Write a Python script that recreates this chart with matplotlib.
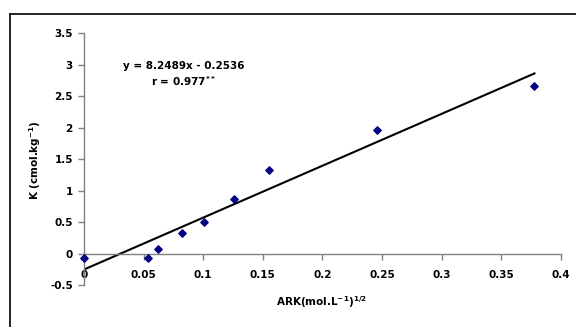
import matplotlib
matplotlib.use("Agg")
import matplotlib.pyplot as plt
from matplotlib.lines import Line2D
import numpy as np

plt.rcParams['font.family'] = ['DejaVu Sans']
plt.rcParams['font.weight'] = 'bold'
plt.rcParams['mathtext.default'] = 'bf'

ark = [0.0, 0.054, 0.062, 0.082, 0.101, 0.126, 0.155, 0.2455, 0.378]
k_vals = [-0.07, -0.07, 0.08, 0.32, 0.51, 0.86, 1.33, 1.96, 2.66]
slope = 8.2489
intercept = -0.2536
fit_x = [0.0, 0.378]
x_ticks = [0, 0.05, 0.1, 0.15, 0.2, 0.25, 0.3, 0.35, 0.4]
x_labels = ['0', '0.05', '0.1', '0.15', '0.2', '0.25', '0.3', '0.35', '0.4']
y_ticks = [-0.5, 0, 0.5, 1, 1.5, 2, 2.5, 3, 3.5]
y_labels = ['-0.5', '0', '0.5', '1', '1.5', '2', '2.5', '3', '3.5']

fig = plt.figure(figsize=(5.76, 3.27), dpi=100)
ax = fig.add_axes([0.1458, 0.1284, 0.9734 - 0.1458, 0.8976 - 0.1284])

fy = [slope * x + intercept for x in fit_x]
ax.plot(fit_x, fy, color='black', lw=1.5, zorder=2)
ax.scatter(ark, k_vals, marker='D', s=14, color='#000080', zorder=3, clip_on=False)

ax.set_xlim(0, 0.4)
ax.set_ylim(-0.5, 3.5)
ax.spines['top'].set_visible(False)
ax.spines['right'].set_visible(False)
ax.spines['bottom'].set_position(('data', 0))
for s in ['left', 'bottom']:
    ax.spines[s].set_color('#808080')
    ax.spines[s].set_linewidth(1.0)

ax.set_xticks(x_ticks)
ax.set_xticklabels(x_labels)
ax.set_yticks(y_ticks)
ax.set_yticklabels(y_labels)
ax.tick_params(axis='both', direction='out', length=4, width=1, color='#808080',
               labelsize=7.5, labelcolor='black')
ax.tick_params(axis='x', pad=8)
ax.tick_params(axis='y', pad=4)

fig.text(322/576, 1 - 302/327, 'ARK(mol.L$^{-1}$)$^{1/2}$', ha='center', va='center',
         fontsize=7.5, fontweight='bold')
fig.text(35/576, 1 - 160/327, 'K (cmol.kg$^{-1}$)', ha='center', va='center', rotation=90,
         fontsize=7.5, fontweight='bold')

fig.text(184/576, 1 - 66/327, 'y = 8.2489x - 0.2536', ha='center', va='center',
         fontsize=7.5, fontweight='bold')
fig.text(184/576, 1 - 81/327, 'r = 0.977$^{**}$', ha='center', va='center',
         fontsize=7.5, fontweight='bold')

fig.add_artist(Line2D([10/576, 1.0], [1 - 14/327, 1 - 14/327], transform=fig.transFigure,
                      color='black', lw=1.2))
fig.add_artist(Line2D([10/576, 10/576], [0.0, 1 - 14/327], transform=fig.transFigure,
                      color='black', lw=1.2))

fig.savefig('out.png', dpi=100)
